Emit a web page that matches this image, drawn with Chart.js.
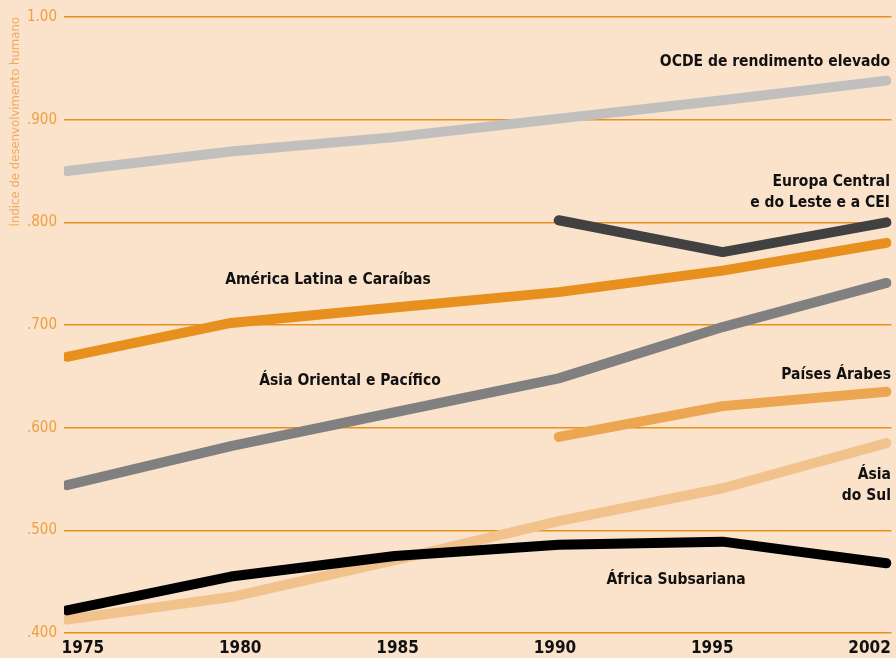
<!DOCTYPE html>
<html lang="pt">
<head>
<meta charset="utf-8">
<title>Índice de desenvolvimento humano por região, 1975–2002</title>
<script src="https://cdn.jsdelivr.net/npm/chart.js@4/dist/chart.umd.min.js"></script>
<style>
  html, body { margin: 0; padding: 0; background: #fae2cb; }
  #wrap { width: 896px; height: 658px; }
</style>
</head>
<body>
<div id="wrap"><canvas id="hdi" width="896" height="658"></canvas></div>
<script>
// Anos (eixo horizontal, espaçados por igual)
const years = ['1975', '1980', '1985', '1990', '1995', '2002'];

// IDH por região
const ocde     = [0.850, 0.869, 0.883, 0.901, 0.919, 0.938];
const europaCE = [null, null, null, 0.802, 0.771, 0.800];
const americaL = [0.669, 0.702, 0.717, 0.732, 0.753, 0.780];
const asiaOP   = [0.544, 0.582, 0.615, 0.648, 0.698, 0.741];
const arabes   = [null, null, null, 0.591, 0.621, 0.635];
const asiaSul  = [0.413, 0.435, 0.471, 0.509, 0.541, 0.585];
const africaSS = [0.422, 0.455, 0.475, 0.486, 0.489, 0.468];

const yTicks = [0.4, 0.5, 0.6, 0.7, 0.8, 0.9, 1.0];

const FONT = '"DejaVu Sans Condensed", "Liberation Sans Narrow", sans-serif';
const ORANGE = '#e8901c';

const toPoints = arr => arr.map((v, i) => ({ x: i, y: v }));

const series = (data, color) => ({
  data: toPoints(data),
  borderColor: color,
  borderWidth: 10,
  borderCapStyle: 'round',
  borderJoinStyle: 'round',
  pointRadius: 0,
  tension: 0,
  spanGaps: false,
  xAxisID: 'x',
});

// Rótulos das séries, escritos sobre a área do gráfico
const seriesLabels = [
  { lines: ['OCDE de rendimento elevado'], x: 890, y: 62, align: 'right' },
  { lines: ['Europa Central', 'e do Leste e a CEI'], x: 890, y: 182, align: 'right' },
  { lines: ['América Latina e Caraíbas'], x: 328, y: 280, align: 'center' },
  { lines: ['Ásia Oriental e Pacífico'], x: 350, y: 381, align: 'center' },
  { lines: ['Países Árabes'], x: 891, y: 375, align: 'right' },
  { lines: ['Ásia', 'do Sul'], x: 891, y: 475, align: 'right' },
  { lines: ['África Subsariana'], x: 676, y: 580, align: 'center' },
];

const labelPlugin = {
  id: 'seriesLabels',
  afterDatasetsDraw(chart) {
    const ctx = chart.ctx;
    ctx.save();
    ctx.font = 'bold 15.5px ' + FONT;
    ctx.fillStyle = '#111111';
    ctx.textBaseline = 'middle';
    seriesLabels.forEach(l => {
      ctx.textAlign = l.align;
      l.lines.forEach((t, k) => ctx.fillText(t, l.x, l.y + k * 21));
    });
    ctx.restore();
  }
};

new Chart(document.getElementById('hdi'), {
  type: 'line',
  data: {
    datasets: [
      series(africaSS, '#000000'),
      series(europaCE, '#414141'),
      series(americaL, '#e8901e'),
      series(ocde, '#c1c0bf'),
      series(asiaOP, '#808080'),
      series(arabes, '#eca550'),
      series(asiaSul, '#f2c28c'),
    ]
  },
  options: {
    responsive: false,
    animation: false,
    layout: { padding: { top: 17, right: 0, bottom: 0, left: 0 } },
    plugins: {
      legend: { display: false },
      tooltip: { enabled: false },
    },
    scales: {
      x: {
        type: 'linear',
        display: false,
        min: -0.0182,
        max: 5.0303,
      },
      xLabels: {
        type: 'linear',
        position: 'bottom',
        min: -0.12,
        max: 5.139,
        grid: { display: false, drawTicks: false },
        border: { display: false },
        afterBuildTicks: axis => { axis.ticks = years.map((y, i) => ({ value: i })); },
        afterFit: axis => { axis.height = 25; },
        ticks: {
          padding: 5,
          autoSkip: false,
          maxRotation: 0,
          color: '#111111',
          font: { family: FONT, size: 17, weight: 'bold' },
          callback: v => years[v],
        },
      },
      y: {
        min: 0.4,
        max: 1.0,
        afterBuildTicks: axis => { axis.ticks = yTicks.map(v => ({ value: v })); },
        afterFit: axis => { axis.width = 64; },
        border: { display: false },
        grid: { color: ORANGE, lineWidth: 1.5, drawTicks: false },
        ticks: {
          padding: 7,
          color: '#eea040',
          font: { family: FONT, size: 15 },
          callback: v => v >= 0.999 ? '1.00' : v.toFixed(3).slice(1),
        },
        title: {
          display: true,
          text: 'Índice de desenvolvimento humano',
          align: 'end',
          color: '#f0aa60',
          padding: { top: 8, bottom: 0 },
          font: { family: FONT, size: 13 },
        },
      },
    },
  },
  plugins: [labelPlugin],
});
</script>
</body>
</html>
